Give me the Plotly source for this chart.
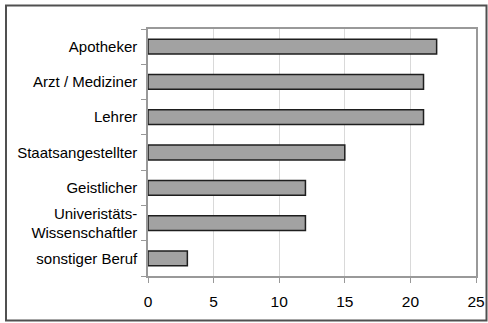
import plotly.graph_objects as go

categories = ["Apotheker", "Arzt / Mediziner", "Lehrer", "Staatsangestellter",
              "Geistlicher", "Univeristäts-<br>Wissenschaftler", "sonstiger Beruf"]
values = [22, 21, 21, 15, 12, 12, 3]
x_ticks = [0, 5, 10, 15, 20, 25]

W, H = 488, 323
L, R, T, B = 148, 12, 29, 47
pw, ph = W - L - R, H - T - B

fig = go.Figure(go.Bar(
    y=categories, x=values, orientation="h",
    marker=dict(color="#a2a2a2", line=dict(color="#1e1e1e", width=1.5)),
))

def px(x):
    return (x - L) / pw

def py(y):
    return 1 - (y - T) / ph

fig.add_shape(type="rect", xref="paper", yref="paper",
              x0=px(6), x1=px(486.5), y0=py(320.5), y1=py(5.5),
              line=dict(color="#505050", width=2), layer="below")

fig.update_layout(
    width=W, height=H, autosize=False,
    margin=dict(l=L, r=R, t=T, b=B, pad=0, autoexpand=False),
    paper_bgcolor="white", plot_bgcolor="white",
    bargap=0.58,
    showlegend=False,
    font=dict(family="Liberation Sans, Arial, sans-serif", size=15, color="#000"),
    xaxis=dict(range=[0, 25], tickvals=x_ticks, showgrid=True, gridcolor="#d9d9d9",
               gridwidth=1, showline=True, linecolor="#999999", linewidth=1.5,
               mirror=True, ticks="outside", ticklen=5, tickcolor="#999999",
               zeroline=False, ticklabelstandoff=6, fixedrange=True,
               automargin=False, tickfont=dict(size=15.5)),
    yaxis=dict(categoryorder="array", categoryarray=categories[::-1],
               autorange=False, range=[-0.5, 6.5],
               showgrid=False, showline=True, linecolor="#999999", linewidth=1.5,
               mirror=True, ticks="outside", ticklen=5, tickcolor="#999999",
               tickson="boundaries", ticklabelstandoff=6, fixedrange=True,
               automargin=False),
)

fig.write_html("out.html")
